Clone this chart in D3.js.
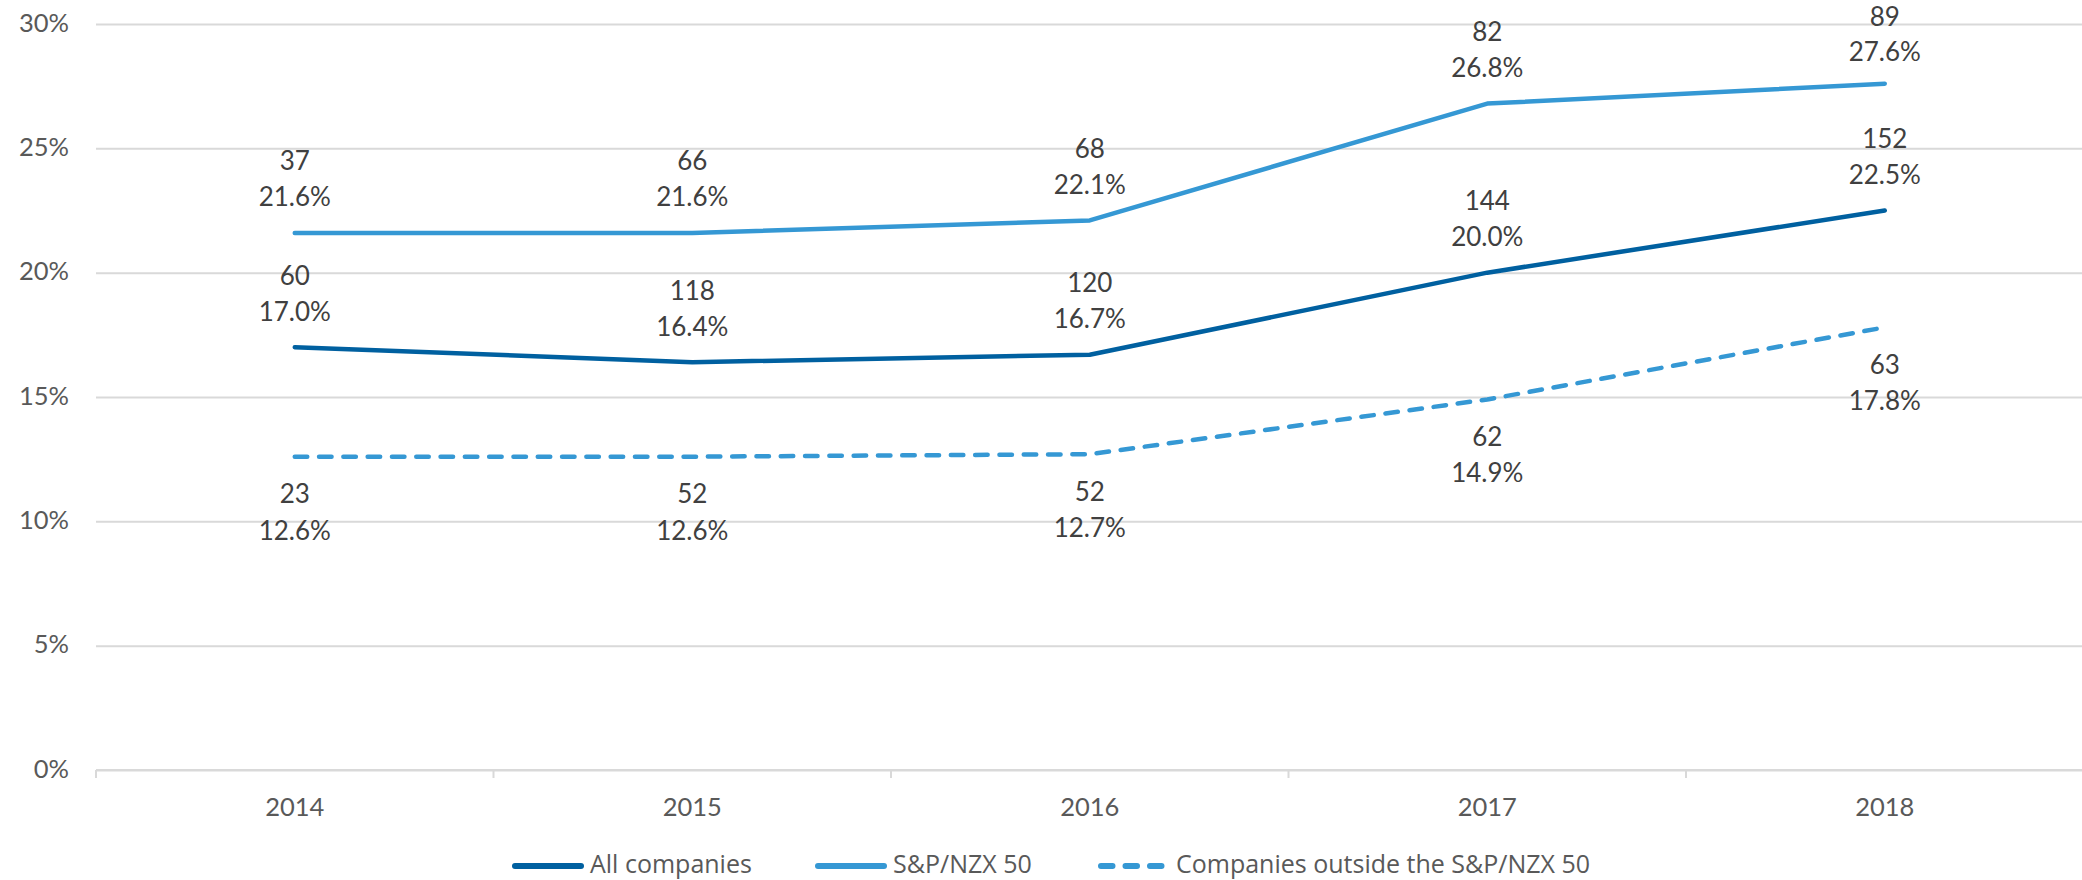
<!DOCTYPE html>
<html>
<head>
<meta charset="utf-8">
<script src="https://cdn.jsdelivr.net/npm/d3@7"></script>
<style>
  html, body { margin: 0; padding: 0; background: #ffffff; }
  svg { display: block; }
</style>
</head>
<body>
<svg id="chart" width="2082" height="880"></svg>
<script>
// Board diversity share by year, with company counts
const years = ["2014", "2015", "2016", "2017", "2018"];
const allCompaniesPct = [17.0, 16.4, 16.7, 20.0, 22.5];
const allCompaniesCount = [60, 118, 120, 144, 152];
const nzx50Pct = [21.6, 21.6, 22.1, 26.8, 27.6];
const nzx50Count = [37, 66, 68, 82, 89];
const outsidePct = [12.6, 12.6, 12.7, 14.9, 17.8];
const outsideCount = [23, 52, 52, 62, 63];
const yTicks = [0, 5, 10, 15, 20, 25, 30];
const seriesNames = ["All companies", "S&P/NZX 50", "Companies outside the S&P/NZX 50"];

const series = [
  { name: seriesNames[0], pct: allCompaniesPct, count: allCompaniesCount, color: "#0060a0", dashed: false, labelPos: "above" },
  { name: seriesNames[1], pct: nzx50Pct, count: nzx50Count, color: "#3598d4", dashed: false, labelPos: "above" },
  { name: seriesNames[2], pct: outsidePct, count: outsideCount, color: "#3598d4", dashed: true, labelPos: "below" }
];

const svg = d3.select("#chart");
const margin = { left: 96, right: -1.5, top: 24, bottom: 110 };
const W = 2082, H = 880;

const x = d3.scaleBand().domain(years).range([margin.left, W - margin.right]);
const y = d3.scaleLinear().domain([0, 30]).range([770, 24]);
const cx = d => x(d) + x.bandwidth() / 2;

const gridColor = "#d9d9d9";
const axisText = "#595959";
const labelText = "#404040";
const dash = "12.5 11.8";

// Horizontal gridlines and y labels
const yAxis = d3.axisLeft(y)
  .tickValues(yTicks)
  .tickSize(-(x.range()[1] - margin.left))
  .tickPadding(27)
  .tickFormat(d => d + "%");

const gy = svg.append("g")
  .attr("transform", `translate(${margin.left},0)`)
  .call(yAxis);
gy.select(".domain").remove();
gy.selectAll(".tick line").attr("stroke", gridColor).attr("stroke-width", 2);
gy.selectAll(".tick text")
  .attr("fill", axisText)
  .attr("font-family", "Lato, 'Open Sans', sans-serif")
  .attr("font-size", 25.5)
  .attr("dy", "0.28em");

// Category axis with boundary ticks
const gx = svg.append("g").attr("transform", `translate(0,${y(0)})`);
gx.append("line")
  .attr("x1", x.range()[0]).attr("x2", x.range()[1])
  .attr("stroke", gridColor).attr("stroke-width", 2);
const bounds = years.map(d => x(d)).concat([x.range()[1]]);
gx.selectAll("line.bound")
  .data(bounds)
  .join("line")
  .attr("class", "bound")
  .attr("x1", d => d).attr("x2", d => d)
  .attr("y1", 0).attr("y2", 8)
  .attr("stroke", gridColor).attr("stroke-width", 2);
gx.selectAll("text.year")
  .data(years)
  .join("text")
  .attr("class", "year")
  .attr("x", d => cx(d))
  .attr("y", 46)
  .attr("text-anchor", "middle")
  .attr("fill", axisText)
  .attr("font-family", "Lato, 'Open Sans', sans-serif")
  .attr("font-size", 25.5)
  .text(d => d);

// Series lines
const line = d3.line()
  .x((d, i) => cx(years[i]))
  .y(d => y(d));

svg.selectAll("path.series")
  .data(series)
  .join("path")
  .attr("class", "series")
  .attr("d", s => line(s.pct))
  .attr("fill", "none")
  .attr("stroke", s => s.color)
  .attr("stroke-width", 4.5)
  .attr("stroke-linecap", "round")
  .attr("stroke-linejoin", "round")
  .attr("stroke-dasharray", s => s.dashed ? dash : null);

// Data labels: count over percentage; keep the top line inside the canvas
const minBaseline = 26;
const labelGroups = svg.selectAll("g.labels")
  .data(series)
  .join("g")
  .attr("class", "labels");

labelGroups.each(function (s) {
  const g = d3.select(this);
  const above = s.labelPos === "above";
  const rows = years.map((yr, i) => {
    const py = y(s.pct[i]);
    let countY = above ? py - 62.5 : py + 46.5;
    let pctY = above ? py - 26.5 : py + 83;
    if (above && countY < minBaseline) {
      countY = minBaseline;
      pctY = Math.max(pctY, countY + 35);
    }
    return { yr, pct: s.pct[i], count: s.count[i], countY, pctY };
  });
  g.selectAll("text.count")
    .data(rows)
    .join("text")
    .attr("class", "count")
    .attr("x", d => cx(d.yr))
    .attr("y", d => d.countY)
    .text(d => d.count);
  g.selectAll("text.pct")
    .data(rows)
    .join("text")
    .attr("class", "pct")
    .attr("x", d => cx(d.yr))
    .attr("y", d => d.pctY)
    .text(d => d.pct.toFixed(1) + "%");
  g.selectAll("text")
    .attr("text-anchor", "middle")
    .attr("fill", labelText)
    .attr("font-family", "Lato, 'Open Sans', sans-serif")
    .attr("font-size", 26);
});

// Legend
const legendX = [512, 815, 1098];
const legendY = 866;
const lg = svg.append("g").attr("class", "legend");
const items = lg.selectAll("g.item")
  .data(series)
  .join("g")
  .attr("class", "item")
  .attr("transform", (s, i) => `translate(${legendX[i]},${legendY})`);
items.append("line")
  .attr("x1", 3).attr("x2", (s) => s.dashed ? 64 : 69)
  .attr("y1", 0).attr("y2", 0)
  .attr("stroke", s => s.color)
  .attr("stroke-width", 6)
  .attr("stroke-linecap", "round")
  .attr("stroke-dasharray", s => s.dashed ? "11.5 13" : null);
items.append("text")
  .attr("x", 78)
  .attr("y", 7)
  .attr("fill", axisText)
  .attr("font-family", "'Open Sans', sans-serif")
  .attr("font-size", 25)
  .text(s => s.name);
</script>
</body>
</html>
